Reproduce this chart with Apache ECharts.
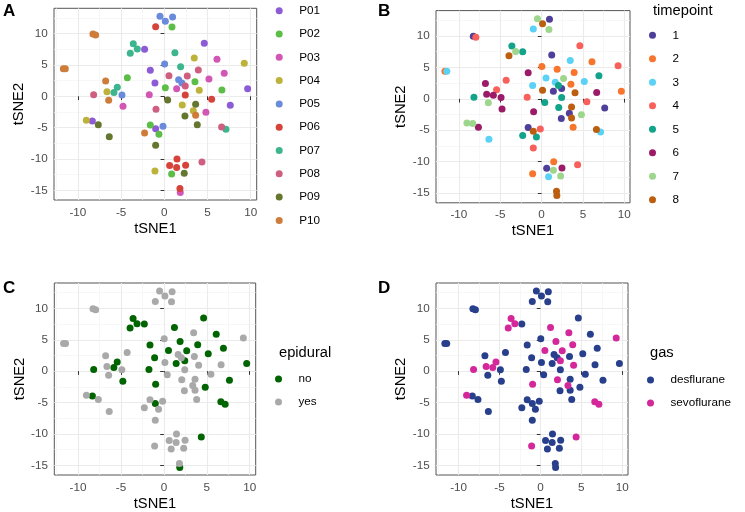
<!DOCTYPE html>
<html><head><meta charset="utf-8">
<script src="https://cdn.jsdelivr.net/npm/echarts@6/dist/echarts.min.js"></script>
<style>html,body{margin:0;padding:0;background:#fff}#c{width:745px;height:512px}</style>
</head><body><div id="c"></div>
<script>
// ---- data (rows = patients P01..P10, columns = timepoints 1..8) ----
const patients = ['P01','P02','P03','P04','P05','P06','P07','P08','P09','P10'];
const timepoints = ['1','2','3','4','5','6','7','8'];
const tsne1 = [
  [7.64, 9.65, -1.08, 4.63, -2.28, -1.62, -8.33, -1.00],
  [-1.62, 3.55, 0.85, -4.28, -0.62, 6.67, 0.89, 0.12],
  [1.43, 6.10, 5.17, -1.74, 6.94, -4.78, 4.82, 1.85],
  [3.36, -1.08, 3.47, 9.26, 2.08, -6.64, -9.03, 4.05],
  [0.96, 0.04, 1.66, -0.15, 2.04, -4.90, -0.50, 0.12],
  [0.62, 1.47, -1.00, 5.48, 2.43, 2.47, 1.43, 1.81],
  [1.23, 1.89, 7.14, -5.44, -3.59, -5.83, -3.13, -3.94],
  [2.43, 3.94, 0.54, 4.36, -8.18, -0.96, 2.66, 6.64],
  [2.39, 3.82, -6.37, -1.00, 0.39, -7.64, 2.31, 3.63],
  [-8.26, -11.69, -11.46, -7.95, -2.28, -6.79, -6.44, 3.63]
];
const tsne2 = [
  [-1.44, 1.22, 2.13, 8.46, 7.50, 4.15, -3.94, -5.16],
  [-4.57, 2.34, -12.39, 2.98, -6.06, 1.01, 11.06, 1.38],
  [1.22, 5.90, 2.77, 0.27, 3.67, -1.60, -2.55, -15.37],
  [-2.29, -11.91, 6.12, 5.27, -1.38, 0.74, -3.83, 0.96],
  [12.66, 5.16, 2.66, -4.79, 2.13, 0.21, 12.77, 11.97],
  [-11.06, -10.00, 11.12, -0.48, 0.21, -11.01, -11.38, -14.73],
  [6.97, 4.73, -5.27, 1.44, 8.40, 0.59, 7.55, 6.86],
  [1.65, 4.20, 3.30, -10.48, 0.27, -2.07, 3.24, -4.89],
  [-3.14, -4.52, -6.44, -7.82, -0.59, -4.52, -12.29, -1.28],
  [9.95, 4.41, 4.41, 9.79, -5.85, 2.45, -0.64, -3.03]
];
const epiduralByPatient = ['no','yes','no','yes','yes','yes','no','no','yes','yes'];
const gasByPatient = ['desflurane','desflurane','desflurane','sevoflurane','desflurane','desflurane','sevoflurane','sevoflurane','desflurane','desflurane'];
const epiduralLevels = ['no','yes'];
const gasLevels = ['desflurane','sevoflurane'];
const xTicks = [-10, -5, 0, 5, 10];
const yTicks = [-15, -10, -5, 0, 5, 10];
const xMinor = [-12.5, -7.5, -2.5, 2.5, 7.5];
const yMinor = [-12.5, -7.5, -2.5, 2.5, 7.5, 12.5];

// ---- styles ----
const patientColors = ['#8C5BD5','#5CBD47','#D257B5','#BDB23A','#6A8BDB','#D6433A','#3DB58F','#CF5F80','#65762E','#CD7C3A'];
const tpColors = ['#4F3F9A','#F8752D','#5AD2F5','#F8605B','#12A38B','#9B1B69','#9DD68C','#BC5E10'];
const epiColors = ['#006400','#A9A9A9'];
const gasColors = ['#283F8C','#D4289A'];
const FONT = '"Liberation Sans", Arial, sans-serif';
const XR = [-12.77, 10.7], YR = [-16.55, 14.05];
const panels = [
  {left: 54, top: 8.3, width: 202.7, height: 191.7},
  {left: 436, top: 10.6, width: 194, height: 192.2},
  {left: 54.3, top: 283, width: 201.4, height: 192},
  {left: 436, top: 283, width: 192, height: 192}
];

function pointsWhere(pred) {
  const out = [];
  for (let p = 0; p < patients.length; p++)
    for (let t = 0; t < timepoints.length; t++)
      if (pred(p, t)) out.push([tsne1[p][t], tsne2[p][t]]);
  return out;
}

const series = [];
function addSeries(name, color, panel, data) {
  series.push({type: 'scatter', name, xAxisIndex: panel, yAxisIndex: panel, data,
    symbol: 'circle', symbolSize: 7, itemStyle: {color, opacity: 1}, emphasis: {disabled: true}});
}
patients.forEach((pn, i) => addSeries(pn, patientColors[i], 0, pointsWhere((p, t) => p === i)));
timepoints.forEach((tn, i) => addSeries(tn, tpColors[i], 1, pointsWhere((p, t) => t === i)));
epiduralLevels.forEach((ln, i) => addSeries(ln, epiColors[i], 2, pointsWhere((p, t) => epiduralByPatient[p] === ln)));
gasLevels.forEach((ln, i) => addSeries(ln, gasColors[i], 3, pointsWhere((p, t) => gasByPatient[p] === ln)));

const xAxes = [], yAxes = [];
panels.forEach((g, i) => {
  xAxes.push({type: 'value', gridIndex: i, min: XR[0], max: XR[1], position: 'bottom',
    axisLine: {show: false},
    axisTick: {show: true, length: 3.7, lineStyle: {color: '#333', width: 1}, customValues: xTicks},
    axisLabel: {customValues: xTicks, margin: 6.3, color: '#4D4D4D', fontSize: 11.7, fontFamily: FONT},
    splitLine: {show: true, lineStyle: {color: '#EBEBEB', width: 1.1}},
    name: 'tSNE1', nameLocation: 'middle', nameGap: 21,
    nameTextStyle: {color: '#000', fontSize: 14.7, fontFamily: FONT}});
  yAxes.push({type: 'value', gridIndex: i, min: YR[0], max: YR[1], position: 'left',
    axisLine: {show: false},
    axisTick: {show: true, length: 3.7, lineStyle: {color: '#333', width: 1}, customValues: yTicks},
    axisLabel: {customValues: yTicks, margin: 6.3, color: '#4D4D4D', fontSize: 11.7, fontFamily: FONT},
    splitLine: {show: true, lineStyle: {color: '#EBEBEB', width: 1.1}},
    name: 'tSNE2', nameLocation: 'middle', nameGap: 27,
    nameTextStyle: {color: '#000', fontSize: 14.7, fontFamily: FONT}});
});
panels.forEach((g, i) => {
  xAxes.push({type: 'value', gridIndex: i, min: XR[0], max: XR[1], position: 'top',
    axisLine: {show: false}, axisTick: {show: false, customValues: xMinor},
    axisLabel: {show: false, customValues: xMinor},
    splitLine: {show: true, lineStyle: {color: '#F4F4F4', width: 0.7}}});
  yAxes.push({type: 'value', gridIndex: i, min: YR[0], max: YR[1], position: 'right',
    axisLine: {show: false}, axisTick: {show: false, customValues: yMinor},
    axisLabel: {show: false, customValues: yMinor},
    splitLine: {show: true, lineStyle: {color: '#F4F4F4', width: 0.7}}});
});

function legend(names, left, top) {
  return {data: names, orient: 'vertical', left, top, padding: 0, icon: 'circle',
    itemWidth: 30, itemHeight: 7, itemGap: 9.3, selectedMode: false,
    textStyle: {fontSize: 11.7, color: '#000', fontFamily: FONT, lineHeight: 14}};
}

function txt(text, x, y, size, bold, extra) {
  return Object.assign({type: 'text', x, y, silent: true,
    style: {text, fill: '#000', font: (bold ? 'bold ' : '') + size + 'px ' + FONT,
      align: 'left', verticalAlign: 'middle'}}, extra || {});
}

const option = {
  animation: false,
  backgroundColor: '#fff',
  grid: panels.map(g => Object.assign({show: true, borderColor: '#555', borderWidth: 1,
    backgroundColor: 'transparent', containLabel: false}, g)),
  xAxis: xAxes,
  yAxis: yAxes,
  legend: [
    legend(patients, 275.7, 3.7),
    Object.assign(legend(timepoints, 649, 28.3), {itemGap: 9.5}),
    Object.assign(legend(epiduralLevels, 275, 372), {itemGap: 9}),
    Object.assign(legend(gasLevels, 647, 373), {itemGap: 9})
  ],
  graphic: [
    txt('A', 3, 11, 17, true),
    txt('B', 378, 11, 17, true),
    txt('C', 3, 288, 17, true),
    txt('D', 378, 288, 17, true),
    txt('timepoint', 653, 11, 14.7, false),
    txt('epidural', 279, 353, 14.7, false),
    txt('gas', 650, 353, 14.7, false)
  ],
  series
};
const chart = echarts.init(document.getElementById('c'), null, {renderer: 'canvas'});
chart.setOption(option);
</script></body></html>
